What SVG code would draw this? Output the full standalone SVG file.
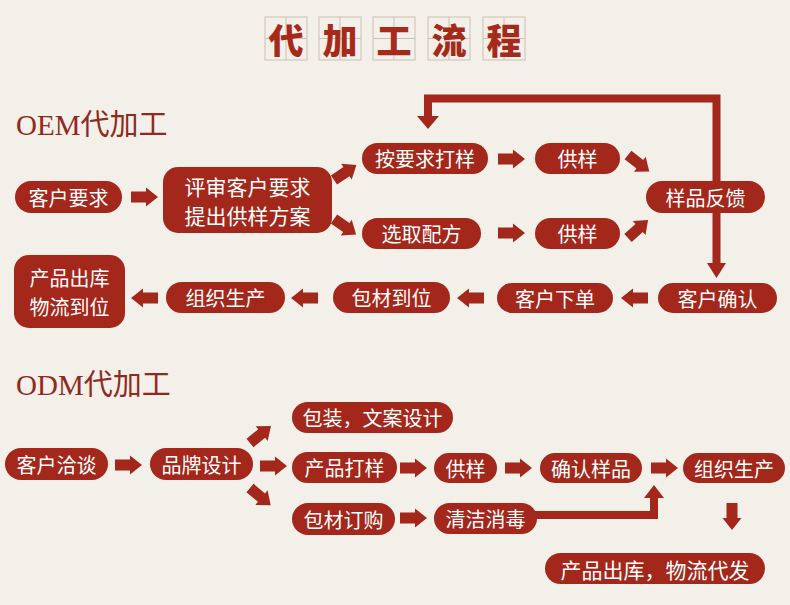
<svg xmlns="http://www.w3.org/2000/svg" width="790" height="605" viewBox="0 0 790 605">
<style>
.bg{fill:#f3efe9}
.n{fill:#a3271b}
.t{fill:#ffffff;font-family:"Noto Sans CJK SC","Noto Sans",sans-serif;font-size:20px;text-anchor:middle;dominant-baseline:central}
.t2{font-size:21px}
.h{fill:#8e2a1e;font-family:"Liberation Serif","Noto Sans CJK SC",serif;font-size:29px}
.tb{fill:none;stroke:#cdbfb6;stroke-width:1}
.tt{fill:#a52a1a;font-family:"Noto Sans CJK SC",sans-serif;font-weight:900;font-size:35px;text-anchor:middle;dominant-baseline:central}
.ln{fill:none;stroke:#a3271b;stroke-width:8;stroke-linejoin:miter}
.ar{fill:#a3271b}
</style>
<defs>
<path id="ba" d="M0,-5.5 H15 V-9.5 L27,0 L15,9.5 V5.5 H0 Z"/>
</defs>
<rect class="bg" x="0" y="0" width="790" height="605"/>

<g id="title">
<g class="tb">
<rect x="265" y="17" width="42" height="43"/><path d="M286,17V60M265,38.5H307"/>
<rect x="319" y="17" width="42" height="43"/><path d="M340,17V60M319,38.5H361"/>
<rect x="373" y="17" width="42" height="43"/><path d="M394,17V60M373,38.5H415"/>
<rect x="428" y="17" width="42" height="43"/><path d="M449,17V60M428,38.5H470"/>
<rect x="483" y="17" width="42" height="43"/><path d="M504,17V60M483,38.5H525"/>
</g>
<text class="tt" x="286" y="38">代</text>
<text class="tt" x="340" y="38">加</text>
<text class="tt" x="394" y="38">工</text>
<text class="tt" x="449" y="38">流</text>
<text class="tt" x="504" y="38">程</text>
</g>

<text class="h" x="16" y="135">OEM代加工</text>
<text class="h" x="16" y="395">ODM代加工</text>

<g id="connectors">
<polyline class="ln" points="716.5,266 716.5,98.5 428,98.5 428,118"/>
<polygon class="ar" points="417,116 439,116 428,129"/>
<polygon class="ar" points="707,263 726,263 716.5,278"/>
<polyline class="ln" points="530,515 654,515 654,496"/>
<polygon class="ar" points="644,498 664,498 654,485"/>
<g class="ar">
<use href="#ba" transform="translate(131,197)"/>
<use href="#ba" transform="translate(334,180) rotate(-34)"/>
<use href="#ba" transform="translate(334,219) rotate(35)"/>
<use href="#ba" transform="translate(498,159)"/>
<use href="#ba" transform="translate(498,233)"/>
<use href="#ba" transform="translate(628,155) rotate(38)"/>
<use href="#ba" transform="translate(628,238) rotate(-42)"/>
<use href="#ba" transform="translate(648,298) rotate(180)"/>
<use href="#ba" transform="translate(484,298) rotate(180)"/>
<use href="#ba" transform="translate(318,298) rotate(180)"/>
<use href="#ba" transform="translate(158,298) rotate(180)"/>
<use href="#ba" transform="translate(115,465)"/>
<use href="#ba" transform="translate(250,443) rotate(-39)"/>
<use href="#ba" transform="translate(260,466)"/>
<use href="#ba" transform="translate(250,488) rotate(40)"/>
<use href="#ba" transform="translate(400,468)"/>
<use href="#ba" transform="translate(400,518)"/>
<use href="#ba" transform="translate(505,468)"/>
<use href="#ba" transform="translate(651,468)"/>
<use href="#ba" transform="translate(732,503) rotate(90)"/>
</g>
</g>

<g id="n1"><rect class="n" x="15" y="181" width="107" height="32" rx="16"/><text class="t" x="68.5" y="197">客户要求</text></g>
<g id="n2"><rect class="n" x="163" y="167" width="169" height="66" rx="15"/><text class="t t2" x="247.5" y="186">评审客户要求</text><text class="t t2" x="247.5" y="215">提出供样方案</text></g>
<g id="n3"><rect class="n" x="362" y="143" width="126" height="31" rx="15.5"/><text class="t" x="425" y="158.5">按要求打样</text></g>
<g id="n4"><rect class="n" x="362" y="218" width="119" height="31" rx="15.5"/><text class="t" x="421.5" y="233.5">选取配方</text></g>
<g id="n5"><rect class="n" x="535" y="143" width="85" height="31" rx="15.5"/><text class="t" x="577.5" y="158.5">供样</text></g>
<g id="n6"><rect class="n" x="535" y="218" width="85" height="31" rx="15.5"/><text class="t" x="577.5" y="233.5">供样</text></g>
<g id="n7"><rect class="n" x="646" y="181" width="119" height="32" rx="16"/><text class="t" x="705.5" y="197">样品反馈</text></g>
<g id="n8"><rect class="n" x="658" y="283" width="119" height="30" rx="15"/><text class="t" x="717.5" y="298">客户确认</text></g>
<g id="n9"><rect class="n" x="497" y="283" width="116" height="30" rx="15"/><text class="t" x="555" y="298">客户下单</text></g>
<g id="n10"><rect class="n" x="333" y="282" width="117" height="31" rx="15.5"/><text class="t" x="391.5" y="297.5">包材到位</text></g>
<g id="n11"><rect class="n" x="166" y="282" width="119" height="31" rx="15.5"/><text class="t" x="225.5" y="297.5">组织生产</text></g>
<g id="n12"><rect class="n" x="14" y="255" width="111" height="73" rx="15"/><text class="t" x="69.5" y="277">产品出库</text><text class="t" x="69.5" y="306">物流到位</text></g>

<g id="m1"><rect class="n" x="5" y="448" width="103" height="32" rx="16"/><text class="t" x="56.5" y="464">客户洽谈</text></g>
<g id="m2"><rect class="n" x="150" y="448" width="103" height="32" rx="16"/><text class="t" x="201.5" y="464">品牌设计</text></g>
<g id="m3"><rect class="n" x="292" y="402" width="161" height="31" rx="15.5"/><text class="t" x="372.5" y="417.5">包装，文案设计</text></g>
<g id="m4"><rect class="n" x="292" y="452" width="105" height="31" rx="15.5"/><text class="t" x="344.5" y="467.5">产品打样</text></g>
<g id="m5"><rect class="n" x="292" y="503" width="103" height="32" rx="16"/><text class="t" x="343.5" y="519">包材订购</text></g>
<g id="m6"><rect class="n" x="434" y="453" width="63" height="30" rx="15"/><text class="t" x="465.5" y="468">供样</text></g>
<g id="m7"><rect class="n" x="540" y="453" width="102" height="30" rx="15"/><text class="t" x="591" y="468">确认样品</text></g>
<g id="m8"><rect class="n" x="683" y="453" width="102" height="30" rx="15"/><text class="t" x="734" y="468">组织生产</text></g>
<g id="m9"><rect class="n" x="434" y="503" width="103" height="31" rx="15.5"/><text class="t" x="485.5" y="518.5">清洁消毒</text></g>
<g id="m10"><rect class="n" x="545" y="553" width="220" height="31" rx="15.5"/><text class="t t2" x="655" y="568.5">产品出库，物流代发</text></g>
</svg>
